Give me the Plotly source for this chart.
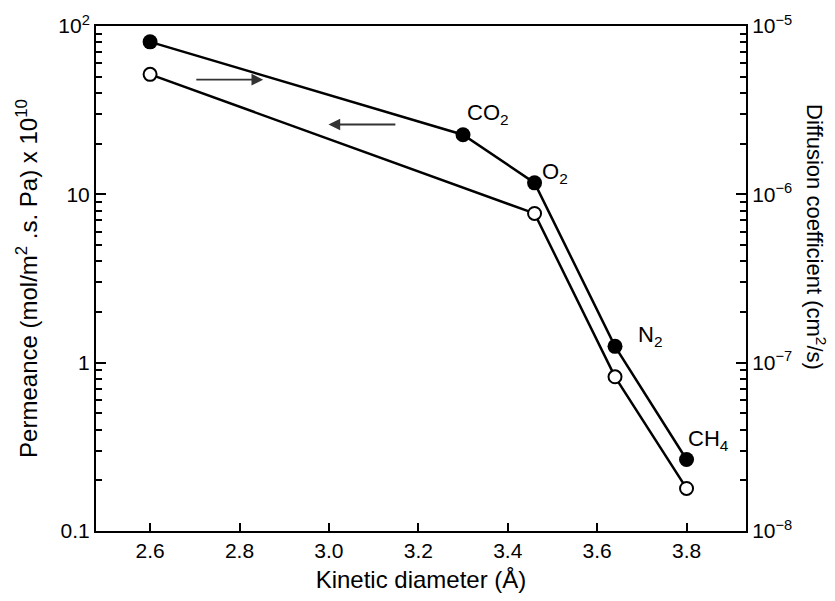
import math
import plotly.graph_objects as go

# Data
kd_perm = [2.6, 3.3, 3.46, 3.64, 3.8]          # kinetic diameter (Å), filled circles
permeance = [80.5, 22.6, 11.7, 1.25, 0.266]     # mol/m2.s.Pa x 1e10
kd_diff = [2.6, 3.46, 3.64, 3.8]                # open circles
diffusion = [5.16e-6, 7.7e-7, 8.24e-8, 1.79e-8] # cm2/s
gas_labels = ["CO<sub>2</sub>", "O<sub>2</sub>", "N<sub>2</sub>", "CH<sub>4</sub>"]
gas_label_x = [3.356, 3.505, 3.719, 3.85]
gas_label_y = [30.0, 13.3, 1.45, 0.345]

x_ticks = [2.6, 2.8, 3.0, 3.2, 3.4, 3.6, 3.8]
x_ticktext = ["2.6", "2.8", "3.0", "3.2", "3.4", "3.6", "3.8"]
y1_ticks = [0.1, 1, 10, 100]
y1_ticktext = ["0.1", "1", "10", "10<sup>2</sup>"]
y2_ticks = [1e-8, 1e-7, 1e-6, 1e-5]
y2_ticktext = ["10<sup>\u22128</sup>", "10<sup>\u22127</sup>", "10<sup>\u22126</sup>", "10<sup>\u22125</sup>"]

y1_minor = [m * 10 ** e for e in (-1, 0, 1) for m in range(2, 10)]
y2_minor = [m * 10 ** e for e in (-8, -7, -6) for m in range(2, 10)]

FONT = "Liberation Sans, Arial, Helvetica, sans-serif"

fig = go.Figure()
fig.add_trace(go.Scatter(
    x=kd_perm, y=permeance, mode="lines+markers", yaxis="y",
    line=dict(color="black", width=2.5),
    marker=dict(symbol="circle", size=15, color="black"),
    showlegend=False))
fig.add_trace(go.Scatter(
    x=kd_diff, y=diffusion, mode="lines+markers", yaxis="y2",
    line=dict(color="black", width=2.5),
    marker=dict(symbol="circle", size=13, color="white",
                line=dict(color="black", width=2)),
    showlegend=False))

annotations = []
for t, lx, ly in zip(gas_labels, gas_label_x, gas_label_y):
    annotations.append(dict(x=lx, y=math.log10(ly), xref="x", yref="y", yanchor="middle",
                            xanchor="center", text=t, showarrow=False,
                            font=dict(size=22, color="black", family=FONT)))
# direction arrows (annotation coords on log axis are in log10 units)
arrow_y1 = math.log10(48)
arrow_y2 = math.log10(26)
annotations.append(dict(x=2.853, y=arrow_y1, ax=2.70, ay=arrow_y1, xref="x", yref="y",
                        axref="x", ayref="y", text="", showarrow=True,
                        arrowhead=2, arrowsize=1.3, arrowwidth=1.8, arrowcolor="#333"))
annotations.append(dict(x=2.999, y=arrow_y2, ax=3.152, ay=arrow_y2, xref="x", yref="y",
                        axref="x", ayref="y", text="", showarrow=True,
                        arrowhead=2, arrowsize=1.3, arrowwidth=1.8, arrowcolor="#333"))
# right axis title (reads top to bottom)
annotations.append(dict(x=1, xref="paper", xshift=70, y=0.582, yref="paper",
                        text="Diffusion coefficient (cm<sup>2</sup>/s)", textangle=90,
                        showarrow=False, xanchor="center", yanchor="middle",
                        font=dict(size=22, color="black", family=FONT)))

fig.update_layout(
    width=835, height=601,
    margin=dict(l=96, r=89, t=22, b=70),
    paper_bgcolor="white", plot_bgcolor="white",
    font=dict(family=FONT, size=21, color="black"),
    xaxis=dict(range=[2.479, 3.933], tickvals=x_ticks, ticktext=x_ticktext,
               ticks="inside", ticklen=8, tickwidth=1.5, tickcolor="black",
               showline=True, linecolor="black", linewidth=2, mirror=True,
               showgrid=False, zeroline=False, tickfont=dict(size=21),
               title=dict(text="Kinetic diameter (Å)", font=dict(size=24), standoff=10)),
    yaxis=dict(type="log", range=[-1, 2], tickvals=y1_ticks, ticktext=y1_ticktext,
               ticks="inside", ticklen=10, tickwidth=1.5, tickcolor="black",
               minor=dict(tickvals=y1_minor, ticks="inside", ticklen=6,
                          tickwidth=1.5, tickcolor="black", showgrid=False),
               showline=True, linecolor="black", linewidth=2,
               showgrid=False, zeroline=False, tickfont=dict(size=21),
               title=dict(text="Permeance (mol/m<sup>2</sup> .s. Pa) x 10<sup>10</sup>",
                          font=dict(size=24), standoff=14)),
    yaxis2=dict(type="log", range=[-8, -5], overlaying="y", side="right",
                tickvals=y2_ticks, ticktext=y2_ticktext,
                ticks="inside", ticklen=10, tickwidth=1.5, tickcolor="black",
                minor=dict(tickvals=y2_minor, ticks="inside", ticklen=6,
                           tickwidth=1.5, tickcolor="black", showgrid=False),
                showline=True, linecolor="black", linewidth=2,
                showgrid=False, zeroline=False, tickfont=dict(size=21)),
    annotations=annotations,
)

fig.write_html("out.html")
